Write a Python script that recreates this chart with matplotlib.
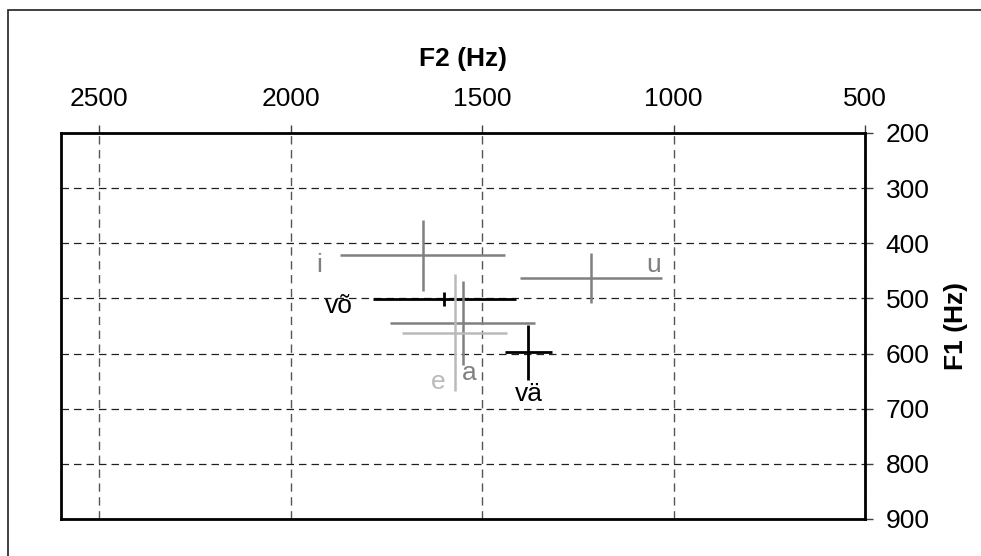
import matplotlib
matplotlib.use("Agg")
import matplotlib.pyplot as plt
from matplotlib.patches import Rectangle

plt.rcParams['font.family'] = ['Liberation Sans', 'DejaVu Sans']

# vowel means and spreads (Hz)
vowels = ['i', 'u', 'võ', 'a', 'e', 'vä']
f2_mean = [1655, 1216, 1599, 1551, 1572, 1379]
f2_sd = [215, 186, 187, 190, 137, 62]
f1_mean = [422, 463, 501, 545, 562, 598]
f1_sd = [64, 46, 12, 76, 106, 50]
colors = ['#808080', '#808080', '#000000', '#808080', '#bababa', '#000000']

# where the vowel labels sit (F2, F1)
label_pos = {'i': (1925, 439), 'u': (1051, 440), 'võ': (1874, 513),
             'a': (1534, 636), 'e': (1616, 652), 'vä': (1379, 673)}

fs = 19

fig = plt.figure(figsize=(9.81, 5.56), dpi=100)
# outer frame, only left and top edges fall inside the picture
fig.patches.append(Rectangle((8 / 981, -0.5), 2.0, 1.5 - 10 / 556,
                             transform=fig.transFigure, fill=False,
                             edgecolor='#202020', linewidth=1.2))
ax = fig.add_axes([61 / 981, 37 / 556, 804 / 981, 386 / 556])

for k in range(len(vowels)):
    lw = 2.0 if colors[k] == '#000000' else 1.8
    ax.errorbar(f2_mean[k], f1_mean[k], xerr=f2_sd[k], yerr=f1_sd[k],
                fmt='none', ecolor=colors[k], elinewidth=lw, capsize=0)
    x, y = label_pos[vowels[k]]
    ax.text(x, y, vowels[k], color=colors[k], fontsize=fs,
            ha='center', va='center')

ax.set_xlim(2600, 500)
ax.set_ylim(900, 200)
ax.set_xticks([2500, 2000, 1500, 1000, 500])
ax.set_yticks([200, 300, 400, 500, 600, 700, 800, 900])

ax.xaxis.tick_top()
ax.xaxis.set_label_position('top')
ax.yaxis.tick_right()
ax.yaxis.set_label_position('right')
ax.tick_params(axis='x', direction='out', length=6, width=1, pad=10,
               labelsize=fs, color='#404040')
ax.tick_params(axis='y', direction='out', length=6, width=1, pad=9,
               labelsize=fs, color='#404040')

ax.set_xlabel('F2 (Hz)', fontsize=fs, fontweight='bold', labelpad=15)
ax.set_ylabel('F1 (Hz)', fontsize=fs, fontweight='bold', labelpad=10)

for s in ax.spines.values():
    s.set_linewidth(2.0)
    s.set_color('black')

ax.xaxis.grid(True, color='#555555', linewidth=1.0, linestyle=(0, (6, 4)))
ax.yaxis.grid(True, color='#202020', linewidth=0.9, linestyle=(0, (6, 4)))
ax.set_axisbelow(True)

fig.savefig('out.png', dpi=100)
